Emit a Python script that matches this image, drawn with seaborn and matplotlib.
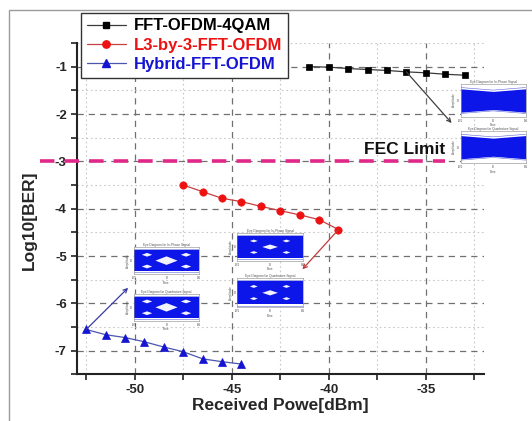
import matplotlib
matplotlib.use("Agg")
import matplotlib.pyplot as plt
import seaborn as sns
import numpy as np
import pandas as pd
from matplotlib.patches import Rectangle, Polygon
from matplotlib.lines import Line2D

# ---------------- data ----------------
x_fft = [-41, -40, -39, -38, -37, -36, -35, -34, -33]
y_fft = [-1.00, -1.01, -1.04, -1.06, -1.08, -1.11, -1.13, -1.16, -1.18]

x_l3 = [-47.5, -46.5, -45.5, -44.5, -43.5, -42.5, -41.5, -40.5, -39.5]
y_l3 = [-3.50, -3.64, -3.78, -3.85, -3.95, -4.04, -4.13, -4.23, -4.44]

x_hyb = [-52.5, -51.5, -50.5, -49.5, -48.5, -47.5, -46.5, -45.5, -44.5]
y_hyb = [-6.55, -6.66, -6.72, -6.81, -6.92, -7.02, -7.17, -7.23, -7.28]

series_names = ["FFT-OFDM-4QAM", "L3-by-3-FFT-OFDM", "Hybrid-FFT-OFDM"]
fec_level = -3
fec_label = "FEC Limit"
x_ticks = [-50, -45, -40, -35]
y_ticks = [-1, -2, -3, -4, -5, -6, -7]
x_label = "Received Powe[dBm]"
y_label = "Log10[BER]"

# arrows: (start x, start y, end x, end y)
arrow_fft = (-36, -1.11, -33.67, -2.19)
arrow_l3 = (-39.5, -4.44, -41.36, -5.28)
arrow_hyb = (-52.5, -6.55, -50.34, -5.67)

# eye-diagram openings (cx, cy, half-width, half-height) in inset units
eye_hyb = [(0.5, 0.5, 0.17, 0.16), (0.2, 0.72, 0.08, 0.07), (0.2, 0.28, 0.08, 0.07),
           (0.8, 0.72, 0.08, 0.07), (0.8, 0.28, 0.08, 0.07)]
eye_l3 = [(0.5, 0.5, 0.12, 0.09), (0.25, 0.72, 0.06, 0.05), (0.25, 0.3, 0.06, 0.05),
          (0.75, 0.72, 0.06, 0.05), (0.75, 0.3, 0.06, 0.05)]
eye_fft = []
band_x = [0, 0.5, 1]
band_up_fft = [0.86, 0.78, 0.86]
band_lo_fft = [0.14, 0.22, 0.14]
band_up_eye = [0.9, 0.9, 0.9]
band_lo_eye = [0.1, 0.1, 0.1]

# ---------------- style ----------------
sns.set_theme(style="white")
plt.rcParams['font.family'] = ['Liberation Sans', 'DejaVu Sans']
plt.rcParams['font.weight'] = 'bold'

fig = plt.figure(figsize=(5.32, 4.21), dpi=100)
fig.patch.set_facecolor("white")
# outer border
fig.add_artist(Rectangle((8.5 / 532, -0.1), 1.2, 1 - 10 / 421 + 0.1, transform=fig.transFigure,
                         fill=False, edgecolor="#9a9a9a", linewidth=1.0))

ax = fig.add_axes([0.1438, 0.1105, 0.766, 0.7874])
ax.set_facecolor("white")

df = pd.concat([
    pd.DataFrame({"x": x_fft, "y": y_fft, "s": series_names[0]}),
    pd.DataFrame({"x": x_l3, "y": y_l3, "s": series_names[1]}),
    pd.DataFrame({"x": x_hyb, "y": y_hyb, "s": series_names[2]}),
])

styles = {
    series_names[0]: dict(line="#3a3a3a", mk="s", mc="#000000", ms=4.6),
    series_names[1]: dict(line="#c84040", mk="o", mc="#ee1111", ms=5.3),
    series_names[2]: dict(line="#4a55b0", mk="^", mc="#1414d2", ms=5.6),
}
for name in series_names:
    st = styles[name]
    sub = df[df["s"] == name]
    sns.lineplot(data=sub, x="x", y="y", ax=ax, color=st["line"], linewidth=0.9,
                 marker=st["mk"], markersize=st["ms"], markerfacecolor=st["mc"],
                 markeredgecolor=st["mc"], markeredgewidth=0.5, legend=False,
                 estimator=None, sort=False, zorder=5)

ax.set_xlim(-53, -32)
ax.set_ylim(-7.5, -0.5)
ax.set_xticks(x_ticks)
ax.set_yticks(y_ticks)
ax.set_xticks(np.arange(-52.5, -32, 5.0), minor=True)
ax.set_yticks(np.arange(-7.5, -0.4, 1.0), minor=True)
ax.set_xticklabels([str(t) for t in x_ticks], fontsize=9.5, fontweight="bold")
ax.set_yticklabels([str(t) for t in y_ticks], fontsize=9.5, fontweight="bold")
ax.tick_params(which="both", direction="out", length=4, width=1.2, color="#222",
               left=True, bottom=True, pad=3)
ax.grid(which="major", linestyle=(0, (5, 4)), color="#707070", linewidth=0.9)
ax.grid(which="minor", linestyle=(0, (1.5, 2.5)), color="#c8c8c8", linewidth=0.8)
ax.set_axisbelow(True)
for side in ["top", "right"]:
    ax.spines[side].set_visible(False)
for side in ["left", "bottom"]:
    ax.spines[side].set_color("#222")
    ax.spines[side].set_linewidth(1.5)

ax.set_xlabel(x_label, fontsize=12.5, fontweight="bold", labelpad=1)
ax.set_ylabel(y_label, fontsize=12.5, fontweight="bold")
ax.yaxis.set_label_coords(-0.098, 0.466)

# FEC limit
ax.plot([-54.9, -34.0], [fec_level, fec_level], color="#e0288a", linewidth=2.6,
        linestyle=(0, (4, 2.8)), clip_on=False, zorder=4)
ax.text(-34.0, -2.84, fec_label, ha="right", va="baseline", fontsize=12.5,
        fontweight="bold", color="#111", zorder=6)

# arrows
for (x0, y0, x1, y1), c in [(arrow_fft, "#404040"), (arrow_l3, "#c03a3a"), (arrow_hyb, "#3a3aa0")]:
    ax.annotate("", xy=(x1, y1), xytext=(x0, y0),
                arrowprops=dict(arrowstyle="->", color=c, lw=0.9, shrinkA=0, shrinkB=0,
                                mutation_scale=7), zorder=6)

# legend
handles = []
for name in series_names:
    st = styles[name]
    handles.append(Line2D([0], [0], color=st["line"], linewidth=0.9, marker=st["mk"],
                          markersize=st["ms"], markerfacecolor=st["mc"], markeredgecolor=st["mc"]))
leg = fig.legend(handles, series_names, loc="upper left", bbox_to_anchor=(0.153, 0.970),
                 bbox_transform=fig.transFigure, borderaxespad=0, fancybox=False,
                 framealpha=1, edgecolor="#333", handlelength=2.3, handletextpad=0.5,
                 labelspacing=0.25, borderpad=0.35, prop=dict(size=12, weight="bold"))
leg.get_frame().set_linewidth(1.0)
for txt, st in zip(leg.get_texts(), ["#000000", "#ee1111", "#1414d2"]):
    txt.set_color(st)

# eye-diagram insets
def eye_inset(rect, openings, up, lo, title):
    ia = fig.add_axes(rect)
    ia.set_facecolor("white")
    ia.fill_between(band_x, lo, up, color="#0c16e8", linewidth=0)
    ia.plot(band_x, [u + 0.04 for u in up], color="#5a64d8", linewidth=0.4)
    ia.plot(band_x, [l - 0.04 for l in lo], color="#5a64d8", linewidth=0.4)
    for cx, cy, hw, hh in openings:
        ia.add_patch(Polygon([(cx - hw, cy), (cx, cy + hh), (cx + hw, cy), (cx, cy - hh)],
                             closed=True, facecolor="white", edgecolor="none", alpha=0.95))
    ia.set_xlim(0, 1)
    ia.set_ylim(0, 1)
    ia.set_xticks([0, 0.5, 1])
    ia.set_xticklabels(["-0.5", "0", "0.5"], fontsize=2.2, fontweight="normal")
    ia.set_yticks([0.5])
    ia.set_yticklabels(["0"], fontsize=2.2, fontweight="normal")
    ia.tick_params(length=1, width=0.3, pad=0.5, color="#888")
    ia.set_title(title, fontsize=2.3, fontweight="normal", pad=1, color="#555")
    ia.set_xlabel("Time", fontsize=2.2, fontweight="normal", labelpad=0.5, color="#555")
    ia.set_ylabel("Amplitude", fontsize=2.2, fontweight="normal", labelpad=0.5, color="#555")
    for s in ia.spines.values():
        s.set_linewidth(0.4)
        s.set_color("#888")

t_i = "Eye Diagram for In-Phase Signal"
t_q = "Eye Diagram for Quadrature Signal"
eye_inset([0.866, 0.7228, 0.122, 0.077], eye_fft, band_up_fft, band_lo_fft, t_i)
eye_inset([0.866, 0.612, 0.122, 0.0767], eye_fft, band_up_fft, band_lo_fft, t_q)
eye_inset([0.2519, 0.3492, 0.1222, 0.0634], eye_hyb, band_up_eye, band_lo_eye, t_i)
eye_inset([0.2519, 0.2383, 0.1222, 0.0634], eye_hyb, band_up_eye, band_lo_eye, t_q)
eye_inset([0.4464, 0.3808, 0.1226, 0.0651], eye_l3, band_up_eye, band_lo_eye, t_i)
eye_inset([0.4464, 0.270, 0.1226, 0.0689], eye_l3, band_up_eye, band_lo_eye, t_q)

fig.savefig("out.png", dpi=100, facecolor="white")
